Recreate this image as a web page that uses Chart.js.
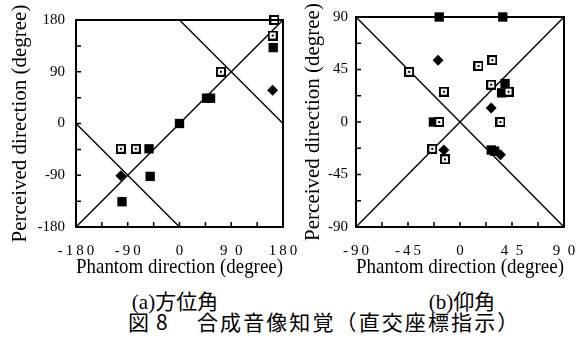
<!DOCTYPE html>
<html>
<head>
<meta charset="utf-8">
<script src="https://cdn.jsdelivr.net/npm/chart.js"></script>
<style>
  body { margin: 0; background: #fff; }
  #page { position: relative; width: 577px; height: 338px; overflow: hidden; background: #fff; }
  #boxA { position: absolute; left: 0; top: 0; }
  #boxB { position: absolute; left: 298px; top: 0; }
  .cap { position: absolute; white-space: nowrap; color: #000; transform: translate(-50%, -50%);
         font-family: "Liberation Serif", "Noto Sans CJK JP", serif; font-size: 21px; line-height: 1; }
  #capMain { position: absolute; left: 128px; top: 311px; white-space: nowrap; color: #000;
             font-family: "Noto Sans CJK JP", sans-serif; font-size: 21px; line-height: 1; letter-spacing: 1.2px; }
</style>
</head>
<body>
<div id="page">
  <div id="boxA"><canvas id="chartA" width="298" height="280"></canvas></div>
  <div id="boxB"><canvas id="chartB" width="279" height="280"></canvas></div>
  <div class="cap" id="capA" style="left:175px; top:302px;">(a)方位角</div>
  <div class="cap" id="capB" style="left:462px; top:302px;">(b)仰角</div>
  <div id="capMain"><span>図 8</span><span style="margin-left:28px; letter-spacing:2.1px">合成音像知覚（直交座標指示）</span></div>
</div>
<script>
// (a) azimuth: phantom direction vs perceived direction
const azOpenX = [-102, -76, 72, 162, 165];
const azOpenY = [-44, -44, 90, 153, 180];
const azFillX = [-100, -53, -51, 0, 47, 54, 163];
const azFillY = [-136, -44, -92, 0, 44, 44, 132];
const azDiaX = [-102, 162];
const azDiaY = [-91, 58];
// reference lines
const azDiagX = [-180, 180];
const azDiagY = [-180, 180];
const azLowX = [-180, 0];
const azLowY = [0, -180];
const azHighX = [0, 180];
const azHighY = [180, 0];
const azXTickLabels = ['-\u20091\u20098\u20090', '-\u20099\u20090', '0', '9  0', '1\u20098\u20090'];
const azYTickLabels = ['-180', '-90', '0', '90', '180'];
const azMarks = [-135, -90, -45, 0, 45, 90, 135];

// (b) elevation
const elOpenX = [-44, -14, 16, 28, 27, 42, 35, -18, -24, -13];
const elOpenY = [43, 26, 48, 53, 32, 26, 0, 0, -23, -32];
const elFillX = [-18, 37, 39, 36, -23, 27, 30];
const elFillY = [90, 90, 33, 25, 0, -24, -25];
const elDiaX = [-19, 27, -14, 35];
const elDiaY = [53, 12, -24, -28];
const elDiagX = [-90, 90];
const elDiagY = [-90, 90];
const elAntiX = [-90, 90];
const elAntiY = [90, -90];
const elXTickLabels = ['-\u20099\u20090', '-\u20094\u20095', '0', '4  5', '9  0'];
const elYTickLabels = ['-90', '-45', '0', '45', '90'];
const elMarks = [-67.5, -45, -22.5, 0, 22.5, 45, 67.5];

const xyOf = (xs, ys) => xs.map((x, i) => ({ x: x, y: ys[i] }));

// square with a white hole and a dot in the middle
function dotSquare() {
  const c = document.createElement('canvas');
  c.width = 10; c.height = 10;
  const g = c.getContext('2d');
  g.fillStyle = '#000'; g.fillRect(0, 0, 10, 10);
  g.fillStyle = '#fff'; g.fillRect(2, 2, 6, 6);
  g.fillStyle = '#000'; g.fillRect(4, 4, 2, 2);
  return c;
}
const openMark = dotSquare();

// frame round the plot and short inward ticks on left and bottom
const framePlugin = {
  id: 'frame',
  afterDatasetsDraw(chart, args, opts) {
    const { ctx, chartArea: a, scales } = chart;
    ctx.save();
    ctx.strokeStyle = '#000';
    ctx.lineWidth = 1.5;
    opts.marks.forEach(v => {
      const px = scales.x.getPixelForValue(v);
      const py = scales.y.getPixelForValue(v);
      ctx.beginPath();
      ctx.moveTo(px, a.bottom); ctx.lineTo(px, a.bottom - 5);
      ctx.moveTo(a.left, py); ctx.lineTo(a.left + 5, py);
      ctx.stroke();
    });
    ctx.lineWidth = 2;
    ctx.strokeRect(a.left, a.top, a.right - a.left, a.bottom - a.top);
    ctx.restore();
  }
};

function lineSet(xs, ys) {
  return { data: xyOf(xs, ys), showLine: true, pointRadius: 0, borderColor: '#000',
           borderWidth: 1.4, order: 5 };
}
function pointSets(ox, oy, fx, fy, dx, dy) {
  return [
    { data: xyOf(ox, oy), pointStyle: openMark, pointRadius: 5, clip: false, order: 1 },
    { data: xyOf(fx, fy), pointStyle: 'rect', pointRadius: 6.6, backgroundColor: '#000',
      borderColor: '#000', borderWidth: 0, clip: false, order: 1 },
    { data: xyOf(dx, dy), pointStyle: 'rectRot', pointRadius: 5.5, backgroundColor: '#000',
      borderColor: '#000', borderWidth: 0, clip: false, order: 1 }
  ];
}

const tickFont = { family: 'Liberation Serif', size: 15 };
const xTitleFont = { family: 'Liberation Serif', size: 22 };
const yTitleFont = { family: 'Liberation Serif', size: 21 };

function makeChart(id, s) {
  return new Chart(document.getElementById(id), {
    type: 'scatter',
    data: { datasets: s.datasets },
    options: {
      responsive: false,
      animation: false,
      layout: { padding: { left: 0, right: s.padRight, top: 16, bottom: 0 } },
      plugins: { legend: { display: false }, tooltip: { enabled: false }, frame: { marks: s.marks } },
      scales: {
        x: {
          type: 'linear', min: s.min, max: s.max,
          afterFit: sc => { sc.height = 53; },
          // invisible tick marks only push the labels down
          grid: { display: true, drawOnChartArea: false, drawTicks: true, tickLength: 15,
                  tickColor: 'rgba(0,0,0,0)' },
          border: { display: false },
          ticks: { stepSize: s.max / 2, padding: 0, color: '#000', font: tickFont, maxRotation: 0,
                   callback: (v, i) => s.xLabels[i] },
          title: { display: true, text: 'Phantom direction (degree)', color: '#000', font: xTitleFont,
                   padding: { top: 0, bottom: 0 } }
        },
        y: {
          type: 'linear', min: s.min, max: s.max,
          afterFit: sc => { sc.width = s.yWidth; },
          grid: { display: false, drawTicks: false },
          border: { display: false },
          ticks: { stepSize: s.max / 2, padding: s.yPad, color: '#000', font: tickFont,
                   callback: (v, i) => s.yLabels[i] },
          title: { display: true, text: 'Perceived direction (degree)', color: '#000', font: yTitleFont,
                   padding: { top: s.titlePad, bottom: 0 } }
        }
      }
    },
    plugins: [framePlugin]
  });
}

makeChart('chartA', {
  min: -180, max: 180, padRight: 15, yWidth: 76, yPad: 11, titlePad: 8,
  xLabels: azXTickLabels, yLabels: azYTickLabels, marks: azMarks,
  datasets: pointSets(azOpenX, azOpenY, azFillX, azFillY, azDiaX, azDiaY)
    .concat([lineSet(azDiagX, azDiagY), lineSet(azLowX, azLowY), lineSet(azHighX, azHighY)])
});

makeChart('chartB', {
  min: -90, max: 90, padRight: 13, yWidth: 58, yPad: 8, titlePad: 3,
  xLabels: elXTickLabels, yLabels: elYTickLabels, marks: elMarks,
  datasets: pointSets(elOpenX, elOpenY, elFillX, elFillY, elDiaX, elDiaY)
    .concat([lineSet(elDiagX, elDiagY), lineSet(elAntiX, elAntiY)])
});
</script>
</body>
</html>
